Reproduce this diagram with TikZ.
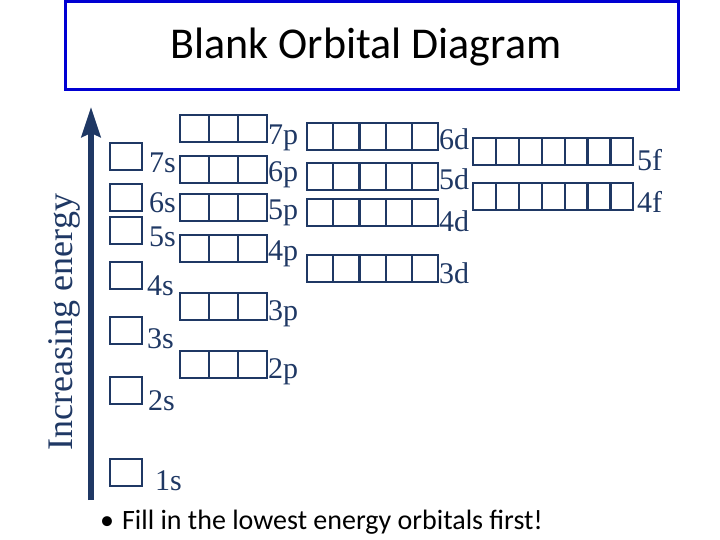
\documentclass[tikz,border=0pt]{standalone}
\usepackage{fontspec}
\setmainfont{Liberation Serif}
\newfontfamily\calibri{Carlito}
\usetikzlibrary{arrows.meta}
\definecolor{navy}{RGB}{31,56,100}
\definecolor{titleblue}{RGB}{0,0,210}
\begin{document}
\begin{tikzpicture}[x=1pt,y=-1pt,
  orb/.style={draw=navy,line width=2.2pt},
  lbl/.style={text=navy,font=\fontsize{30}{30}\selectfont,inner sep=0pt,anchor=base west}]
\useasboundingbox (0,0) rectangle (720,540);
\draw[titleblue,line width=3pt] (65,2) rectangle (678,90);
\node (title) at (366,47) {\calibri\fontsize{44}{44}\selectfont Blank Orbital Diagram};
% energy axis
\coordinate (low) at (91,500);
\coordinate (high) at (91,107);
\draw[navy,line width=5.5pt,-{Stealth[length=30pt,width=19pt,inset=4pt]}] (low) -- (high);
\node[rotate=90,font=\fontsize{36}{36}\selectfont,text=navy] (energy) at (64,322) {Increasing energy};
% s orbitals
\foreach \n/\y/\lx/\ly in {7/143/149/173,6/184/149/212,5/217/149/247,4/262/147/295,3/317/147/348,2/377/148/410,1/459/155/490}
  {\draw[orb] (110,\y) rectangle ++(32,27);
   \node[lbl] (s\n) at (\lx,\ly) {\n s};}
% p orbitals
\foreach \n/\y/\ly in {7/115/145,6/156/182,5/194/220,4/235/260,3/293/320,2/351/378}
  {\foreach \i in {0,1,2} \draw[orb] (180+29*\i,\y) rectangle ++(29,27);
   \node[lbl] (p\n) at (268,\ly) {\n p};}
% d orbitals
\foreach \n/\y/\ly in {6/123/150,5/163/190,4/199/232,3/255/283}
  {\foreach \i in {0,...,4} \draw[orb] (307+26.2*\i,\y) rectangle ++(26.2,27);
   \node[lbl] (d\n) at (439,\ly) {\n d};}
% f orbitals
\foreach \n/\y/\ly in {5/138/171,4/183/212}
  {\foreach \i in {0,...,6} \draw[orb] (473+22.9*\i,\y) rectangle ++(22.9,27);
   \node[lbl] (f\n) at (637,\ly) {\n f};}
\node[anchor=base west,inner sep=0pt] (note) at (100,529) {\calibri\fontsize{28}{28}\selectfont \textbullet\hspace{8pt}Fill in the lowest energy orbitals first!};
\end{tikzpicture}
\end{document}
